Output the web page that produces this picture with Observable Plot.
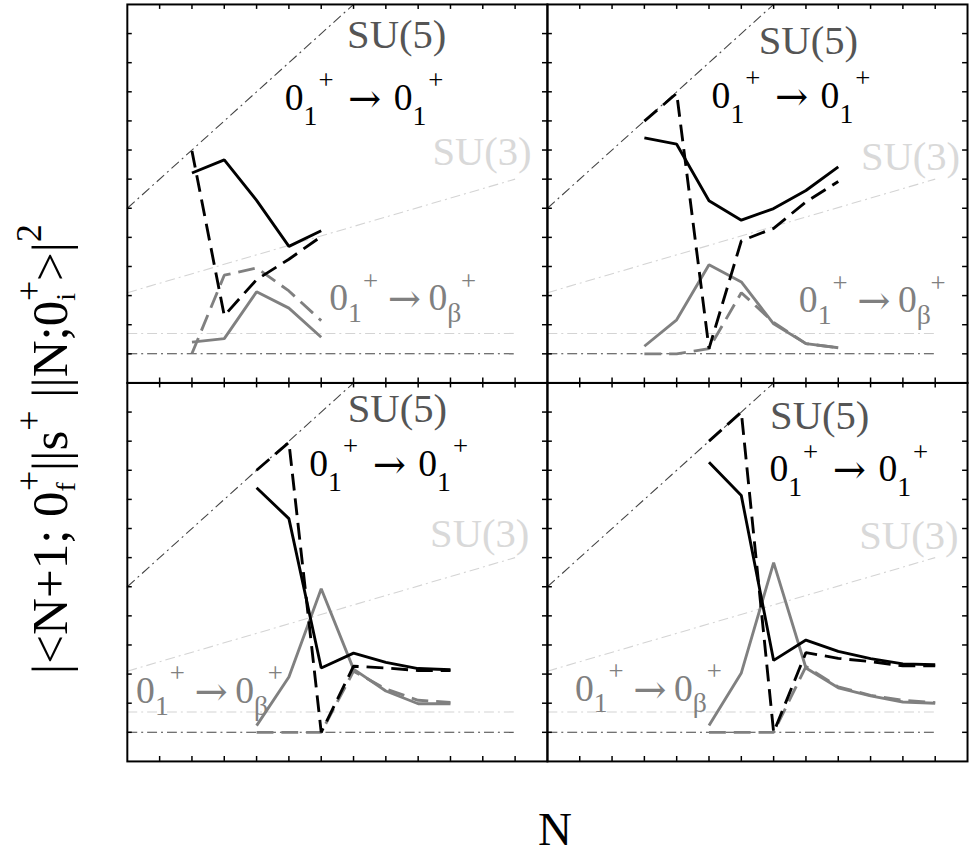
<!DOCTYPE html>
<html><head><meta charset="utf-8">
<script src="https://cdn.jsdelivr.net/npm/d3@7"></script>
<script src="https://cdn.jsdelivr.net/npm/@observablehq/plot@0.6"></script>
<style>
html,body{margin:0;padding:0;overflow:hidden;background:#fff;}
#wrap{position:relative;width:971px;height:856px;overflow:hidden;}
#chart{position:absolute;left:0;top:0;}
.lab{position:absolute;font-family:"Liberation Serif",serif;white-space:nowrap;color:#000;}
#ylab{font-size:51px;line-height:51px;left:50px;top:449px;transform:translate(-50%,-50%) rotate(-90deg);}
#xlab{font-size:47px;line-height:40px;height:40px;left:555px;top:809px;transform:translateX(-50%);}
.sp{font-size:0.7em;position:relative;top:-0.72em;line-height:0;}
.sb{font-size:0.55em;position:relative;top:0.3em;line-height:0;}
</style></head>
<body><div id="wrap"><div id="chart"></div>
<div id="ylab" class="lab">|&lt;N+1; 0<span class="sb">f</span><span class="sp" style="margin-left:-9px">+</span>||s<span class="sp">+</span> ||N;0<span class="sb">i</span><span class="sp" style="margin-left:-8px">+</span>&gt;|<span class="sp">2</span></div>
<div id="xlab" class="lab">N</div>
</div>
<script>
// ---- panel (a): top-left ----
const nA = [2, 3, 4, 5, 6];
const blackSolidA = [6.21, 6.66, 5.27, 3.69, 4.23];
const blackDashA  = [6.97, 1.31, 2.55, 3.25, 4.03];
const graySolidA  = [0.40, 0.52, 2.13, 1.57, 0.57];
const grayDashA   = [0.01, 2.70, 2.95, 2.16, 1.14];
// ---- panel (b): top-right ----
const nB = [3, 4, 5, 6, 7, 8, 9];
const blackSolidB = [7.42, 7.20, 5.26, 4.59, 4.99, 5.61, 6.42];
const blackDashB  = [7.99, 8.95, 0.18, 3.88, 4.31, 5.22, 5.92];
const graySolidB  = [0.26, 1.17, 3.06, 2.47, 1.03, 0.35, 0.21];
const grayDashB   = [0.00, 0.00, 0.18, 2.10, 1.08, 0.35, 0.21];
// ---- panel (c): bottom-left ----
const nC = [4, 5, 6, 7, 8, 9, 10];
const blackSolidC = [8.40, 7.34, 2.21, 2.72, 2.40, 2.19, 2.15];
const blackDashC  = [9.00, 9.96, 0.00, 2.27, 2.21, 2.12, 2.12];
const graySolidC  = [0.23, 1.90, 4.93, 2.17, 1.42, 0.98, 0.98];
const grayDashC   = [0.00, 0.00, 0.00, 2.10, 1.49, 1.10, 1.03];
// ---- panel (d): bottom-right ----
const nD = [5, 6, 7, 8, 9, 10, 11, 12];
const blackSolidD = [9.28, 8.13, 2.47, 3.17, 2.78, 2.53, 2.35, 2.32];
const blackDashD  = [10.00, 11.00, 0.00, 2.74, 2.54, 2.43, 2.28, 2.28];
const graySolidD  = [0.23, 2.04, 5.83, 2.21, 1.53, 1.25, 1.04, 1.00];
const grayDashD   = [0.00, 0.00, 0.00, 2.26, 1.56, 1.27, 1.10, 1.02];

// ---- limit lines (same in every panel) ----
const su5N = [0, 7],  su5V = [5, 12];
const su3N = [0, 12], su3V = [2.1, 6.0];
const su3LimN = [0, 12], su3LimV = [0.7, 0.7];
const su5LimN = [0, 12], su5LimV = [0, 0];

// ---- ticks ----
const xTicks = [1,2,3,4,5,6,7,8,9,10,11,12];
const yTicks = [0,1,2,3,4,5,6,7,8,9,10,11];

// ---- label texts and anchors (panel col,row ; N, value) ----
const su5Text = "SU(5)", su3Text = "SU(3)";
const blackLabelParts = ["0", "1", "+", "\u2192", "0", "1", "+"];
const grayLabelParts  = ["0", "1", "+", "\u2192", "0", "\u03b2", "+"];
const su5Anchor = [{col:0,row:0,N:6.80,v:10.49},{col:1,row:0,N:6.54,v:10.29},{col:0,row:1,N:6.82,v:10.65},{col:1,row:1,N:6.89,v:10.43}];
const su3Anchor = [{col:0,row:0,N:9.44,v:6.48},{col:1,row:0,N:9.70,v:6.31},{col:0,row:1,N:9.37,v:6.35},{col:1,row:1,N:9.65,v:6.29}];
const blackAnchor = [{col:0,row:0,N:4.87,v:8.38},{col:1,row:0,N:5.08,v:8.45},{col:0,row:1,N:5.63,v:8.80},{col:1,row:1,N:6.87,v:8.62}];
const grayAnchor  = [{col:0,row:0,N:6.25,v:1.49},{col:1,row:0,N:7.78,v:1.42},{col:0,row:1,N:0.27,v:1.02},{col:1,row:1,N:0.85,v:1.09}];

// ---- build tables ----
const panels = [
  {col:0,row:0,N:nA,bs:blackSolidA,bd:blackDashA,gs:graySolidA,gd:grayDashA},
  {col:1,row:0,N:nB,bs:blackSolidB,bd:blackDashB,gs:graySolidB,gd:grayDashB},
  {col:0,row:1,N:nC,bs:blackSolidC,bd:blackDashC,gs:graySolidC,gd:grayDashC},
  {col:1,row:1,N:nD,bs:blackSolidD,bd:blackDashD,gs:graySolidD,gd:grayDashD}
];
function series(key) {
  const out = [];
  panels.forEach((p, i) => p.N.forEach((n, j) => out.push({panel:i, col:p.col, row:p.row, N:n, v:p[key][j]})));
  return out;
}
const pairs = (ns, vs) => ns.map((n, i) => ({N:n, v:vs[i]}));

const serif = "Liberation Serif";
const arrowFont = "DejaVu Serif";
const DASH = "17,8";
const DASHDOT = "10,4,2,4";
const GRAY = "#808080";

const dataLine = (key, stroke, dash) => Plot.line(series(key), {
  x:"N", y:"v", fx:"col", fy:"row", z:"panel",
  stroke, strokeWidth:2.9, strokeDasharray:dash, strokeLinejoin:"miter", strokeLinecap:"butt"
});
const refLine = (ns, vs, stroke) => Plot.line(pairs(ns, vs), {
  x:"N", y:"v", stroke, strokeWidth:1.1, strokeDasharray:DASHDOT, strokeLinecap:"butt"
});

function labelMarks(anchor, parts, fill, offs) {
  return parts.map((t, i) => Plot.text(anchor, {
    x:"N", y:"v", fx:"col", fy:"row", text: () => t,
    dx: offs[i][0], dy: offs[i][1], fontSize: offs[i][2],
    fill, textAnchor:"start", lineAnchor:"bottom", fontFamily: offs[i][3] ? arrowFont : serif
  }));
}
// [dx, dy, fontSize, useArrowFont] for each part
const blackOffs = [[0,0,38],[19,15,28],[34,-21,27],[64,2,40,1],[110,0,38],[129,15,28],[145,-21,27]];
const grayOffs  = [[0,0,38],[19,12,28],[34,-21,27],[59,2,40,1],[100,0,38],[119,12,28],[133,-21,27]];

const chart = Plot.plot({
  width: 980, height: 856,
  marginLeft: 127.3, marginTop: 3.5, marginRight: 3.9, marginBottom: 87,
  style: {background: "white", fontFamily: serif},
  x: {domain:[0,13], axis:null},
  y: {domain:[-1,12], axis:null},
  fx: {domain:[0,1], padding:0, axis:null},
  fy: {domain:[0,1], padding:0, axis:null},
  marks: [
    refLine(su5LimN, su5LimV, "#444"),
    refLine(su3LimN, su3LimV, "#d4d4d4"),
    refLine(su3N, su3V, "#d4d4d4"),
    refLine(su5N, su5V, "#444"),
    dataLine("gd", GRAY, DASH),
    dataLine("gs", GRAY, null),
    dataLine("bd", "black", DASH),
    dataLine("bs", "black", null),
    Plot.ruleX(xTicks, {x: d => d, y1: 12, y2: 11.83, stroke:"black", strokeWidth:1.5}),
    Plot.ruleX(xTicks, {x: d => d, y1: -1, y2: -0.83, stroke:"black", strokeWidth:1.5}),
    Plot.ruleY(yTicks, {y: d => d, x1: 0, x2: 0.153, stroke:"black", strokeWidth:1.5}),
    Plot.ruleY(yTicks, {y: d => d, x1: 13, x2: 12.847, stroke:"black", strokeWidth:1.5}),
    Plot.frame({stroke:"black", strokeWidth:2}),
    Plot.text(su5Anchor, {x:"N", y:"v", fx:"col", fy:"row", text: () => su5Text, fill:"#555", fontSize:41, textAnchor:"start", lineAnchor:"bottom", fontFamily: serif}),
    Plot.text(su3Anchor, {x:"N", y:"v", fx:"col", fy:"row", text: () => su3Text, fill:"#d9d9d9", fontSize:41, textAnchor:"start", lineAnchor:"bottom", fontFamily: serif}),
    ...labelMarks(blackAnchor, blackLabelParts, "black", blackOffs),
    ...labelMarks(grayAnchor, grayLabelParts, GRAY, grayOffs)
  ]
});
document.getElementById("chart").appendChild(chart);
</script></body></html>
